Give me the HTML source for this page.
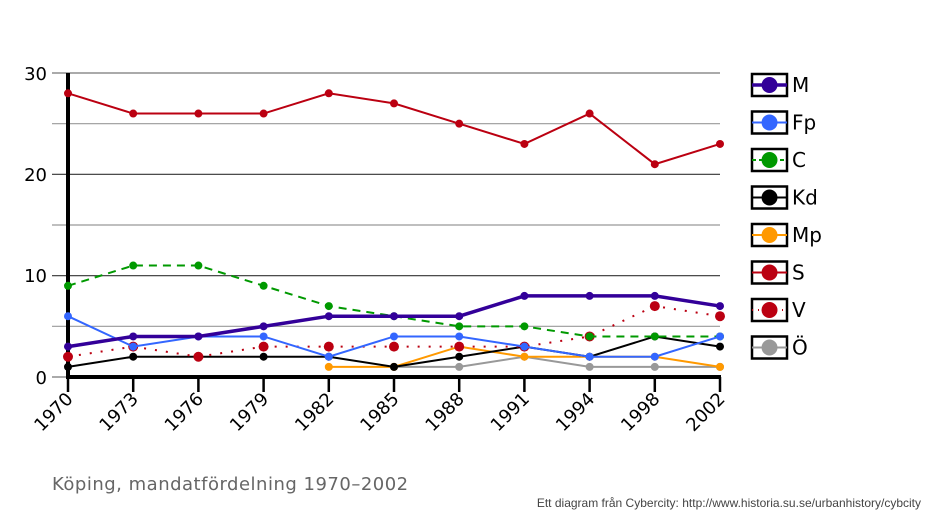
<!DOCTYPE html>
<html><head><meta charset="utf-8"><style>body{margin:0;background:#fff}svg{display:block}</style></head><body>
<svg width="934" height="521" xmlns="http://www.w3.org/2000/svg" font-family="'DejaVu Sans', 'Liberation Sans', sans-serif">
<g stroke-width="1.2">
<line x1="52" x2="720" y1="73" y2="73" stroke="#777"/>
<line x1="52" x2="720" y1="123.7" y2="123.7" stroke="#999"/>
<line x1="52" x2="720" y1="174.3" y2="174.3" stroke="#333"/>
<line x1="52" x2="720" y1="225" y2="225" stroke="#999"/>
<line x1="52" x2="720" y1="275.7" y2="275.7" stroke="#333"/>
<line x1="52" x2="720" y1="326.3" y2="326.3" stroke="#999"/>
<line x1="52" x2="720" y1="377" y2="377" stroke="#777"/>
</g>
<g font-size="18" fill="#000" text-anchor="end">
<text x="47" y="80">30</text><text x="47" y="181">20</text><text x="47" y="282">10</text><text x="47" y="384">0</text>
</g>
<line x1="68" x2="68" y1="73" y2="378" stroke="#000" stroke-width="4"/>
<line x1="66" x2="721" y1="377" y2="377" stroke="#000" stroke-width="4"/>
<g stroke="#000" stroke-width="2.5">
<line x1="68" x2="68" y1="377" y2="392"/><line x1="133.2" x2="133.2" y1="377" y2="392"/><line x1="198.4" x2="198.4" y1="377" y2="392"/><line x1="263.6" x2="263.6" y1="377" y2="392"/><line x1="328.8" x2="328.8" y1="377" y2="392"/><line x1="394" x2="394" y1="377" y2="392"/><line x1="459.2" x2="459.2" y1="377" y2="392"/><line x1="524.4" x2="524.4" y1="377" y2="392"/><line x1="589.6" x2="589.6" y1="377" y2="392"/><line x1="654.8" x2="654.8" y1="377" y2="392"/><line x1="720" x2="720" y1="377" y2="392"/>
</g>
<g font-size="18" text-anchor="end">
<text transform="translate(74,400) rotate(-45)">1970</text>
<text transform="translate(139.2,400) rotate(-45)">1973</text>
<text transform="translate(204.4,400) rotate(-45)">1976</text>
<text transform="translate(269.6,400) rotate(-45)">1979</text>
<text transform="translate(334.8,400) rotate(-45)">1982</text>
<text transform="translate(400,400) rotate(-45)">1985</text>
<text transform="translate(465.2,400) rotate(-45)">1988</text>
<text transform="translate(530.4,400) rotate(-45)">1991</text>
<text transform="translate(595.6,400) rotate(-45)">1994</text>
<text transform="translate(660.8,400) rotate(-45)">1998</text>
<text transform="translate(726,400) rotate(-45)">2002</text>
</g>
<g id="series"></g>
<text x="52" y="490" font-size="18" fill="#666" letter-spacing="0.5">Köping, mandatfördelning 1970–2002</text>
<text x="921" y="507" font-size="12" fill="#444" text-anchor="end" font-family="'Liberation Sans', sans-serif">Ett diagram från Cybercity: http://www.historia.su.se/urbanhistory/cybcity</text>
<g font-size="20">
<rect x="752" y="74" width="35" height="22" fill="#fff" stroke="#000" stroke-width="2.5"/><line x1="752" x2="787" y1="85" y2="85" stroke="#330099" stroke-width="3.5"/><circle cx="769.5" cy="85" r="8" fill="#330099"/><text x="792" y="92">M</text>
<rect x="752" y="111.5" width="35" height="22" fill="#fff" stroke="#000" stroke-width="2.5"/><line x1="752" x2="787" y1="122.5" y2="122.5" stroke="#3366ff" stroke-width="2"/><circle cx="769.5" cy="122.5" r="8" fill="#3366ff"/><text x="792" y="129.5">Fp</text>
<rect x="752" y="149" width="35" height="22" fill="#fff" stroke="#000" stroke-width="2.5"/><line x1="752" x2="787" y1="160" y2="160" stroke="#009900" stroke-width="2" stroke-dasharray="4 3"/><circle cx="769.5" cy="160" r="8" fill="#009900"/><text x="792" y="167">C</text>
<rect x="752" y="186.5" width="35" height="22" fill="#fff" stroke="#000" stroke-width="2.5"/><line x1="752" x2="787" y1="197.5" y2="197.5" stroke="#000" stroke-width="2"/><circle cx="769.5" cy="197.5" r="8" fill="#000"/><text x="792" y="204.5">Kd</text>
<rect x="752" y="224" width="35" height="22" fill="#fff" stroke="#000" stroke-width="2.5"/><line x1="752" x2="787" y1="235" y2="235" stroke="#ff9900" stroke-width="2"/><circle cx="769.5" cy="235" r="8" fill="#ff9900"/><text x="792" y="242">Mp</text>
<rect x="752" y="261.5" width="35" height="22" fill="#fff" stroke="#000" stroke-width="2.5"/><line x1="752" x2="787" y1="272.5" y2="272.5" stroke="#bb0011" stroke-width="2"/><circle cx="769.5" cy="272.5" r="8" fill="#bb0011"/><text x="792" y="279.5">S</text>
<rect x="752" y="299" width="35" height="22" fill="#fff" stroke="#000" stroke-width="2.5"/><line x1="752" x2="787" y1="310" y2="310" stroke="#bb0011" stroke-width="2" stroke-dasharray="1 5"/><circle cx="769.5" cy="310" r="8" fill="#bb0011"/><text x="792" y="317">V</text>
<rect x="752" y="336.5" width="35" height="22" fill="#fff" stroke="#000" stroke-width="2.5"/><line x1="752" x2="787" y1="347.5" y2="347.5" stroke="#999" stroke-width="2"/><circle cx="769.5" cy="347.5" r="8" fill="#999"/><text x="792" y="354.5">Ö</text>
</g>
<script>
var ns="http://www.w3.org/2000/svg";
function X(i){return 68+65.2*i}function Y(v){return 377-10.133*v}
var S=[
["#999999",[null,null,null,null,null,1,1,2,1,1,1],2,"",4],
["#ff9900",[null,null,null,null,1,1,3,2,2,2,1],2,"",4],
["#000000",[1,2,2,2,2,1,2,3,2,4,3],2,"",4],
["#bb0011",[2,3,2,3,3,3,3,3,4,7,6],2,"2 9",5],
["#009900",[9,11,11,9,7,6,5,5,4,4,4],2,"8 6",4],
["#3366ff",[6,3,4,4,2,4,4,3,2,2,4],2,"",4],
["#bb0011",[28,26,26,26,28,27,25,23,26,21,23],2,"",4],
["#330099",[3,4,4,5,6,6,6,8,8,8,7],3.5,"",4]];
var g=document.getElementById("series");
S.forEach(function(s){var p="";s[1].forEach(function(v,i){if(v!==null)p+=(p?"L":"M")+X(i)+","+Y(v)});
var e=document.createElementNS(ns,"path");e.setAttribute("d",p);e.setAttribute("fill","none");e.setAttribute("stroke",s[0]);e.setAttribute("stroke-width",s[2]);if(s[3])e.setAttribute("stroke-dasharray",s[3]);g.appendChild(e);
s[1].forEach(function(v,i){if(v!==null){var c=document.createElementNS(ns,"circle");c.setAttribute("cx",X(i));c.setAttribute("cy",Y(v));c.setAttribute("r",s[4]);c.setAttribute("fill",s[0]);g.appendChild(c);}});});
</script>
</svg>
</body></html>
